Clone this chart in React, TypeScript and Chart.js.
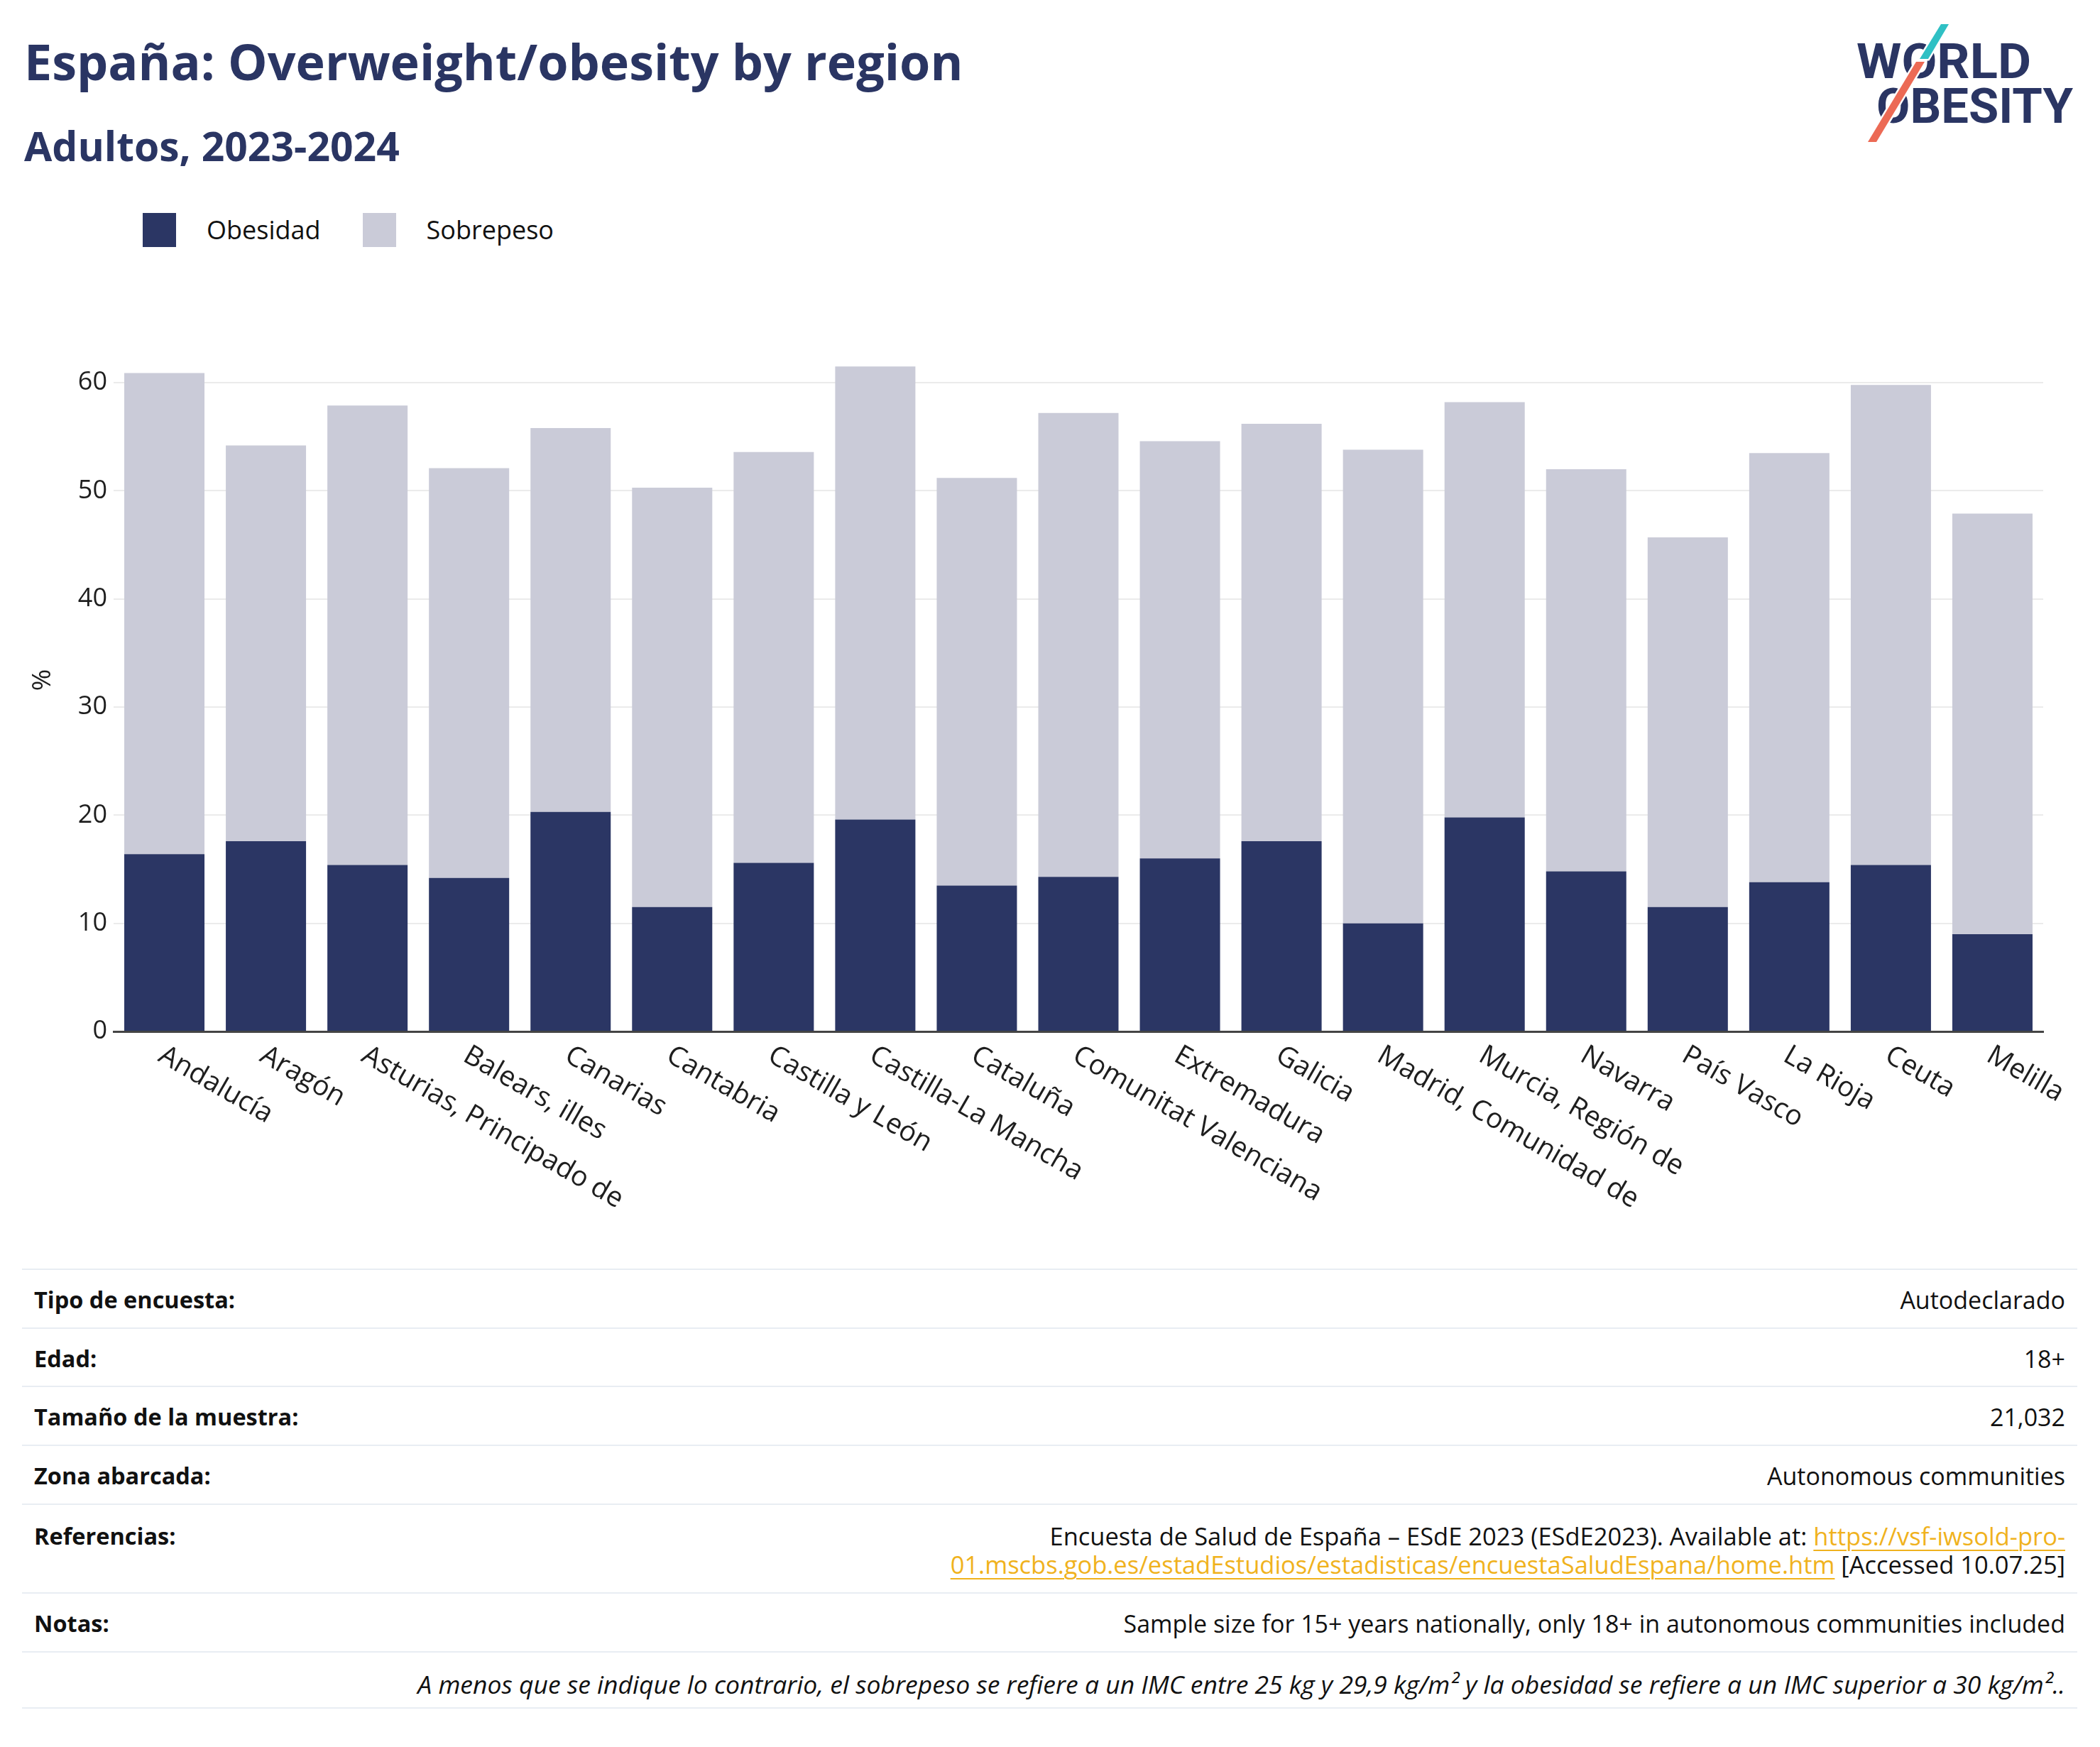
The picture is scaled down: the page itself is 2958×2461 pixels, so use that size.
import React, { useEffect, useRef } from "react";
import { Chart, registerables } from "chart.js";

Chart.register(...registerables);

// ---------- data ----------
const regions = [
  "Andalucía",
  "Aragón",
  "Asturias, Principado de",
  "Balears, illes",
  "Canarias",
  "Cantabria",
  "Castilla y León",
  "Castilla-La Mancha",
  "Cataluña",
  "Comunitat Valenciana",
  "Extremadura",
  "Galicia",
  "Madrid, Comunidad de",
  "Murcia, Región de",
  "Navarra",
  "País Vasco",
  "La Rioja",
  "Ceuta",
  "Melilla",
];
const obesidad = [16.4, 17.6, 15.4, 14.2, 20.3, 11.5, 15.6, 19.6, 13.5, 14.3, 16.0, 17.6, 10.0, 19.8, 14.8, 11.5, 13.8, 15.4, 9.0];
const sobrepeso = [44.5, 36.6, 42.5, 37.9, 35.5, 38.8, 38.0, 41.9, 37.7, 42.9, 38.6, 38.6, 43.8, 38.4, 37.2, 34.2, 39.7, 44.4, 38.9];
const seriesNames = ["Obesidad", "Sobrepeso"];
const seriesColors = ["#2b3664", "#cacbd8"];
const yTickValues = [0, 10, 20, 30, 40, 50, 60];

const infoLabels = ["Tipo de encuesta:", "Edad:", "Tamaño de la muestra:", "Zona abarcada:", "Referencias:", "Notas:"];
const infoValues = [
  "Autodeclarado",
  "18+",
  "21,032",
  "Autonomous communities",
  "REF",
  "Sample size for 15+ years nationally, only 18+ in autonomous communities included",
];
const footnote =
  "A menos que se indique lo contrario, el sobrepeso se refiere a un IMC entre 25 kg y 29,9 kg/m² y la obesidad se refiere a un IMC superior a 30 kg/m²..";

const FONT = "'Open Sans', 'Noto Sans', sans-serif";
const NAVY = "#2a3563";

const xLabelPlugin = {
  id: "rotatedXLabels",
  afterDraw(chart: any) {
    const { ctx, chartArea } = chart;
    const x = chart.scales.x;
    ctx.save();
    ctx.font = "39px 'Open Sans'";
    ctx.fillStyle = "#1e1e1e";
    ctx.textAlign = "left";
    ctx.textBaseline = "middle";
    (chart.data.labels as string[]).forEach((lab: string, i: number) => {
      const px = x.getPixelForValue(i);
      ctx.save();
      ctx.translate(px - 5, chartArea.bottom + 31);
      ctx.rotate(Math.PI / 6);
      ctx.fillText(lab, 0, 0);
      ctx.restore();
    });
    ctx.restore();
  },
};

function BarChart() {
  const ref = useRef<HTMLCanvasElement | null>(null);
  useEffect(() => {
    if (!ref.current) return;
    Chart.defaults.font.family = FONT;
    const chart = new Chart(ref.current, {
      type: "bar",
      data: {
        labels: regions,
        datasets: [
          {
            label: seriesNames[0],
            data: obesidad,
            backgroundColor: seriesColors[0],
            barPercentage: 0.79,
            categoryPercentage: 1.0,
          },
          {
            label: seriesNames[1],
            data: sobrepeso,
            backgroundColor: seriesColors[1],
            barPercentage: 0.79,
            categoryPercentage: 1.0,
          },
        ],
      },
      options: {
        animation: false,
        responsive: false,
        devicePixelRatio: 1,
        layout: { padding: { top: 63, bottom: 307, left: 0, right: 80 } },
        plugins: {
          legend: { display: false },
          tooltip: { enabled: false },
        },
        scales: {
          x: {
            stacked: true,
            grid: { display: false, drawTicks: false },
            border: { display: true, color: "#444444", width: 3 },
            ticks: { display: false },
          },
          y: {
            stacked: true,
            min: 0,
            max: 65,
            afterBuildTicks: (axis: any) => {
              axis.ticks = yTickValues.map((v) => ({ value: v }));
            },
            afterFit: (scale: any) => {
              scale.width = 160;
            },
            grid: {
              drawTicks: false,
              lineWidth: 2,
              color: (c: any) => (c.tick && c.tick.value === 0 ? "rgba(0,0,0,0)" : "#ebebeb"),
            },
            border: { display: false },
            ticks: {
              padding: 9,
              color: "#1e1e1e",
              font: { size: 36, family: FONT },
            },
            title: {
              display: true,
              text: "%",
              color: "#1e1e1e",
              font: { size: 37, family: FONT },
              padding: { top: 38, bottom: 0 },
            },
          },
        },
      },
      plugins: [xLabelPlugin],
    });
    return () => chart.destroy();
  }, []);
  return (
    <canvas
      ref={ref}
      width={2958}
      height={1360}
      style={{ position: "absolute", left: 0, top: 400, width: 2958, height: 1360 }}
    />
  );
}

function Logo() {
  return (
    <svg
      width={340}
      height={200}
      style={{ position: "absolute", left: 2600, top: 20 }}
      viewBox="0 0 340 200"
    >
      <text x={15} y={90} fontFamily="Roboto, 'DejaVu Sans'" fontWeight={700} fontSize={68} fill={NAVY} textLength={246} lengthAdjust="spacingAndGlyphs">
        WORLD
      </text>
      <text x={43} y={153} fontFamily="Roboto, 'DejaVu Sans'" fontWeight={700} fontSize={68} fill={NAVY} textLength={277} lengthAdjust="spacingAndGlyphs">
        OBESITY
      </text>
      <polygon points="134,14 145,14 116,63 104,63" fill="#2fc0c4" stroke="#ffffff" strokeWidth={5} paintOrder="stroke" />
      <polygon points="99,67 111,67 43,180 31,180" fill="#ec6a55" stroke="#ffffff" strokeWidth={5} paintOrder="stroke" />
    </svg>
  );
}

function Legend() {
  return (
    <div
      style={{
        position: "absolute",
        left: 201,
        top: 300,
        height: 48,
        display: "flex",
        alignItems: "center",
        fontFamily: FONT,
        fontSize: 36,
        color: "#111",
      }}
    >
      {seriesNames.map((n, i) => (
        <div key={n} style={{ display: "flex", alignItems: "center", marginRight: 59 }}>
          <div style={{ width: 47, height: 48, background: seriesColors[i], marginRight: 43 }} />
          <span style={{ lineHeight: "42px" }}>{n}</span>
        </div>
      ))}
    </div>
  );
}

const rowTops = [1787, 1870, 1952, 2035, 2118, 2243, 2326];
const rowBottom = 2407;

function InfoTable() {
  const linkStyle: React.CSSProperties = { color: "#f0b21d", textDecoration: "underline", textDecorationThickness: 2, textUnderlineOffset: 6 };
  const rows = infoLabels.map((lab, i) => {
    const top = rowTops[i];
    const h = rowTops[i + 1] - top;
    const v = infoValues[i];
    const isRef = v === "REF";
    return (
      <div
        key={lab}
        style={{
          position: "absolute",
          left: 31,
          width: 2895,
          top,
          height: h,
          borderTop: "2px solid #e8edf3",
          boxSizing: "border-box",
          display: "flex",
          justifyContent: "space-between",
          alignItems: "flex-start",
          padding: `${isRef ? 24 : 22}px 17px 0 17px`,
          fontFamily: FONT,
          lineHeight: "40px",
          color: "#111",
        }}
      >
        <div style={{ fontWeight: 700, whiteSpace: "nowrap", fontSize: 32.5 }}>{lab}</div>
        <div style={{ textAlign: "right", fontSize: isRef ? 34.5 : 34, whiteSpace: "nowrap" }}>
          {isRef ? (
            <>
              Encuesta de Salud de España – ESdE 2023 (ESdE2023). Available at:{" "}
              <span style={linkStyle}>https://vsf-iwsold-pro-</span>
              <br />
              <span style={linkStyle}>01.mscbs.gob.es/estadEstudios/estadisticas/encuestaSaludEspana/home.htm</span> [Accessed 10.07.25]
            </>
          ) : (
            v
          )}
        </div>
      </div>
    );
  });
  return (
    <>
      {rows}
      <div
        style={{
          position: "absolute",
          left: 31,
          width: 2895,
          top: rowTops[6],
          height: rowBottom - rowTops[6],
          borderTop: "2px solid #e8edf3",
          borderBottom: "2px solid #e8edf3",
          boxSizing: "border-box",
          padding: "24px 17px 0 17px",
          textAlign: "right",
          fontFamily: FONT,
          fontSize: 35.5,
          lineHeight: "40px",
          fontStyle: "italic",
          color: "#111",
          whiteSpace: "nowrap",
        }}
      >
        {footnote}
      </div>
    </>
  );
}

export default function App() {
  return (
    <div style={{ position: "absolute", left: 0, top: 0, width: 2958, height: 2461, background: "#fff", overflow: "hidden" }}>
      <div
        style={{
          position: "absolute",
          left: 34,
          top: 44,
          fontFamily: FONT,
          fontWeight: 700,
          fontSize: 70,
          lineHeight: 1.2,
          color: NAVY,
          whiteSpace: "nowrap",
        }}
      >
        España: Overweight/obesity by region
      </div>
      <div
        style={{
          position: "absolute",
          left: 34,
          top: 171,
          fontFamily: FONT,
          fontWeight: 700,
          fontSize: 57,
          lineHeight: 1.2,
          color: NAVY,
          whiteSpace: "nowrap",
        }}
      >
        Adultos, 2023-2024
      </div>
      <Logo />
      <Legend />
      <BarChart />
      <InfoTable />
    </div>
  );
}
